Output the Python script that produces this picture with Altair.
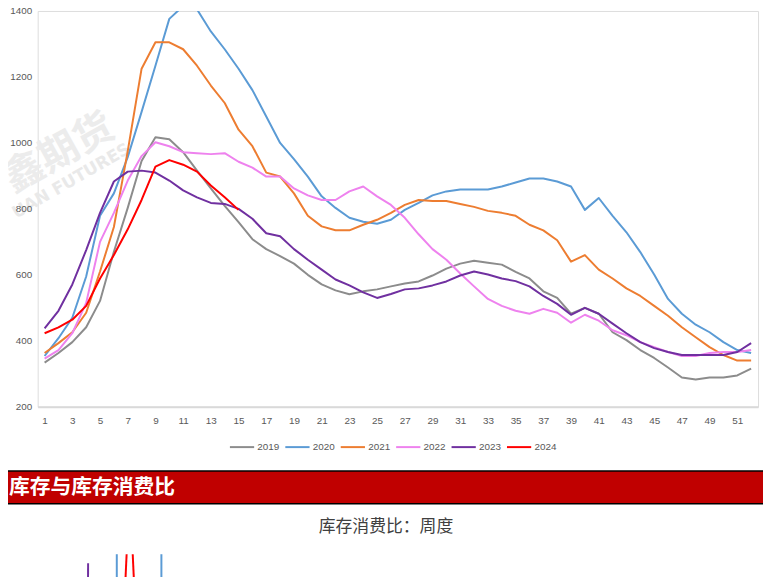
import altair as alt
import pandas as pd

# ---------------- data ----------------
weeks = list(range(1, 53))
years = ["2019", "2020", "2021", "2022", "2023", "2024"]

y2019 = [334, 363, 396, 441, 521, 670, 803, 945, 1017, 1011, 972, 916, 862, 809, 760, 708,
         678, 657, 634, 600, 571, 553, 541, 550, 556, 565, 574, 580, 598, 619, 634, 643,
         637, 631, 609, 589, 550, 530, 482, 500, 482, 426, 402, 372, 348, 319, 289, 283,
         289, 289, 295, 316]
y2020 = [354, 408, 470, 595, 779, 847, 957, 1094, 1234, 1376, 1415, 1405, 1338, 1284, 1225, 1160,
         1080, 1000, 951, 898, 838, 803, 773, 761, 755, 767, 797, 818, 841, 853, 859, 859,
         859, 868, 880, 892, 892, 883, 868, 797, 833, 779, 729, 669, 601, 527, 482, 449,
         426, 396, 372, 363]
y2021 = [363, 393, 426, 485, 610, 745, 975, 1225, 1305, 1305, 1284, 1234, 1174, 1121, 1040, 990,
         910, 898, 847, 779, 747, 735, 735, 752, 767, 788, 812, 827, 824, 824, 815, 806,
         794, 788, 779, 752, 735, 705, 640, 660, 616, 589, 559, 536, 506, 476, 441, 411,
         381, 357, 340, 340]
y2022 = [346, 372, 423, 515, 700, 788, 886, 960, 1002, 990, 972, 969, 966, 969, 943, 925,
         898, 898, 862, 841, 827, 827, 853, 868, 838, 812, 773, 723, 678, 646, 604, 565,
         527, 506, 491, 482, 497, 485, 455, 479, 461, 432, 417, 396, 381, 366, 354, 354,
         363, 366, 366, 372]
y2023 = [438, 491, 571, 675, 788, 883, 913, 916, 910, 886, 856, 835, 818, 815, 800, 770,
         726, 717, 678, 646, 616, 586, 568, 547, 530, 542, 556, 559, 568, 580, 598, 610,
         601, 589, 581, 565, 536, 512, 479, 500, 482, 452, 423, 396, 378, 366, 357, 357,
         357, 357, 366, 393]
y2024 = [423, 441, 464, 506, 589, 660, 738, 827, 928, 948, 934, 913, 871, 835, 797]

series_values = [y2019, y2020, y2021, y2022, y2023, y2024]
x_tick_labels = list(range(1, 52, 2))
y_tick_labels = [200, 400, 600, 800, 1000, 1200, 1400]

# fragment of the next chart (inventory / consumption ratio), visible at the bottom edge
ratio_series = ["2023", "2020", "2024", "2024", "2020"]
ratio_x_bottom = [4.12, 6.21, 6.72, 7.56, 9.43]
ratio_x_top = [4.14, 6.21, 6.92, 7.36, 9.43]
ratio_bottom = [30, 30, 30, 30, 30]
ratio_top = [47, 60, 60, 60, 60]

banner_title = "库存与库存消费比"
sub_title = "库存消费比：周度"
watermark_cn = "鑫期货"
watermark_en = "UAN FUTURES"

# ---------------- style ----------------
colors = ["#8c8c8c", "#5b9bd5", "#ed7d31", "#ee82ee", "#7030a0", "#ff0000"]
widths = [2, 2, 2, 2, 2, 3.5]
num_font = "Liberation Sans"
cjk_font = "Noto Sans CJK SC"

rows = []
for yr, vals in zip(years, series_values):
    for w, v in zip(weeks, vals):
        rows.append({"week": w, "value": v, "year": yr})
df = pd.DataFrame(rows)

one = pd.DataFrame({"k": [0]})

legend = alt.Legend(
    title=None, orient="none", legendX=193, legendY=427, direction="horizontal",
    columns=6, symbolType="stroke", symbolSize=600, labelFontSize=10,
    labelColor="#595959", labelFont=num_font, labelOffset=2, columnPadding=1,
    padding=0,
)

x_axis = alt.Axis(values=x_tick_labels, title=None, grid=False, ticks=False,
                  domainColor="#d9d9d9", domainWidth=2, labelColor="#595959",
                  labelFontSize=10, labelFont=num_font, labelPadding=9,
                  labelFlush=False, labelOverlap=False, zindex=1, format="d")

wm1 = alt.Chart(one).mark_text(
    text=watermark_cn, font=cjk_font, fontSize=40, fontWeight="bold",
    color="#ececec", angle=331, align="center", baseline="middle",
).encode(x=alt.value(22), y=alt.value(144))

wm2 = alt.Chart(one).mark_text(
    text=watermark_en, font="DejaVu Sans", fontSize=17, fontWeight="bold",
    color="#e9e9e9", angle=330, align="center", baseline="middle",
).encode(x=alt.value(34), y=alt.value(172))

lines = alt.Chart(df).mark_line(clip=True, strokeJoin="round").encode(
    x=alt.X("week:Q",
            scale=alt.Scale(domain=[0.5, 52.5], nice=False, zero=False),
            axis=x_axis),
    y=alt.Y("value:Q",
            scale=alt.Scale(domain=[200, 1400], nice=False, zero=False),
            axis=alt.Axis(values=y_tick_labels, title=None, grid=False, ticks=False,
                          domain=False, labelColor="#595959", labelFontSize=10,
                          labelFont=num_font, labelPadding=6, labelFlush=False,
                          labelOverlap=False, zindex=1, format="d")),
    color=alt.Color("year:N", scale=alt.Scale(domain=years, range=colors), legend=legend),
    strokeWidth=alt.StrokeWidth("year:N", scale=alt.Scale(domain=years, range=widths),
                                legend=legend),
    order=alt.Order("week:Q"),
)

banner = alt.Chart(one).mark_rect(fill="#c00000", stroke="#000000", strokeWidth=1.5).encode(
    x=alt.value(-32), x2=alt.value(735), y=alt.value(465), y2=alt.value(498)
)
banner_text = alt.Chart(one).mark_text(
    text=banner_title, font=cjk_font, fontSize=21, fontWeight="bold", color="#ffffff",
    align="left", baseline="middle",
).encode(x=alt.value(-29), y=alt.value(482))

subtitle = alt.Chart(one).mark_text(
    text=sub_title, font=cjk_font, fontSize=17, color="#404040",
    align="center", baseline="middle",
).encode(x=alt.value(352), y=alt.value(522))

rdf = pd.DataFrame({"s": ratio_series, "xb": ratio_x_bottom, "xt": ratio_x_top,
                    "vb": ratio_bottom, "vt": ratio_top})
ratio_layers = []
for yr in ["2023", "2020", "2024"]:
    ratio_layers.append(
        alt.Chart(rdf[rdf["s"] == yr]).mark_rule(
            color=colors[years.index(yr)], strokeWidth=2
        ).encode(
            x=alt.X("xb:Q", axis=x_axis), x2="xt:Q",
            y=alt.Y("vb:Q", scale=alt.Scale(domain=[0, 50], range=[700, 549], clamp=True),
                    axis=None),
            y2="vt:Q",
        )
    )
ratio_chart = alt.layer(*ratio_layers)

chart = alt.layer(
    wm1, wm2, lines, banner, banner_text, subtitle, ratio_chart
).resolve_scale(y="independent").properties(
    width=728, height=400,
    padding={"left": 30, "top": 0, "right": 5, "bottom": 169},
    autosize=alt.AutoSizeParams(type="none"),
).configure_view(stroke=None).configure_axis(
    labelOverlap=False
).configure(background="#ffffff")

chart.save("out.html", embed_options={"renderer": "svg", "actions": False})
